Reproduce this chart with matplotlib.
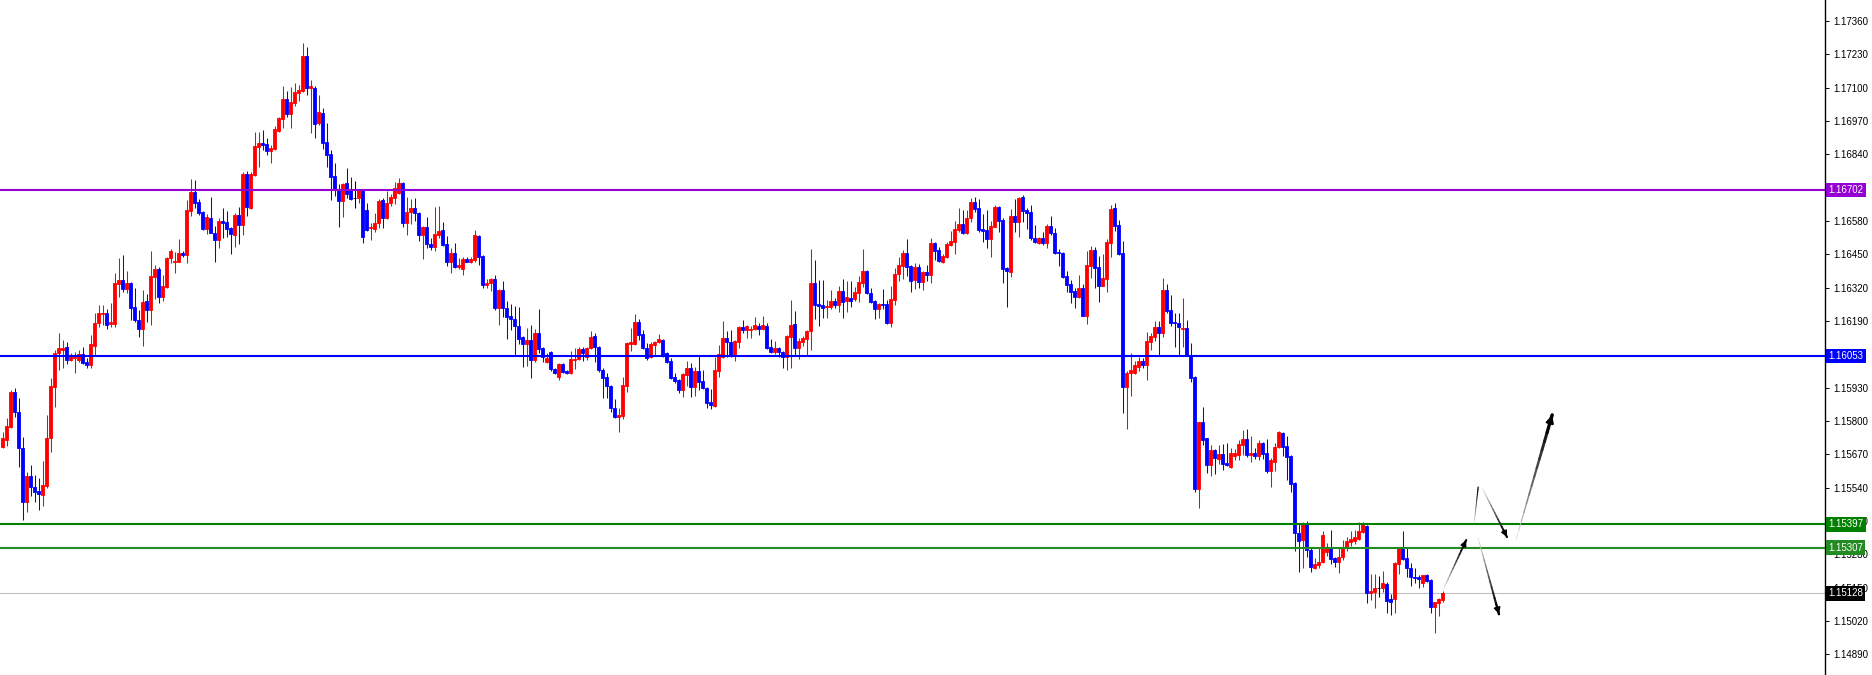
import numpy as np
import matplotlib.pyplot as plt

plt.rcParams['font.family'] = ['Liberation Sans', 'DejaVu Sans']

# candle data (H1 style bars)
opens = [
    1.15699, 1.15726, 1.15777, 1.15913, 1.15835, 1.15695, 1.15484, 1.15586, 1.15543, 1.15527,
    1.15511, 1.15547, 1.15734, 1.15933, 1.16065, 1.16077, 1.16089, 1.16038, 1.16046, 1.16038,
    1.16061, 1.16030, 1.16018, 1.16093, 1.16182, 1.16217, 1.16221, 1.16178, 1.16178, 1.16334,
    1.16350, 1.16315, 1.16338, 1.16245, 1.16194, 1.16159, 1.16268, 1.16233, 1.16362, 1.16393,
    1.16284, 1.16323, 1.16436, 1.16420, 1.16420, 1.16455, 1.16447, 1.16619, 1.16693, 1.16654,
    1.16615, 1.16549, 1.16592, 1.16533, 1.16506, 1.16580, 1.16576, 1.16553, 1.16525, 1.16603,
    1.16564, 1.16763, 1.16631, 1.16759, 1.16869, 1.16884, 1.16880, 1.16853, 1.16861, 1.16931,
    1.16978, 1.17056, 1.16997, 1.17040, 1.17079, 1.17087, 1.17224, 1.17099, 1.17099, 1.16962,
    1.17001, 1.16888, 1.16841, 1.16756, 1.16701, 1.16658, 1.16728, 1.16705, 1.16670, 1.16670,
    1.16701, 1.16623, 1.16553, 1.16549, 1.16572, 1.16662, 1.16592, 1.16650, 1.16670, 1.16689,
    1.16728, 1.16572, 1.16615, 1.16631, 1.16611, 1.16525, 1.16557, 1.16490, 1.16479, 1.16525,
    1.16545, 1.16490, 1.16420, 1.16455, 1.16401, 1.16393, 1.16432, 1.16420, 1.16428, 1.16522,
    1.16444, 1.16330, 1.16338, 1.16354, 1.16241, 1.16311, 1.16241, 1.16210, 1.16198, 1.16171,
    1.16128, 1.16100, 1.16116, 1.16038, 1.16143, 1.16085, 1.16030, 1.16069, 1.16003, 1.15972,
    1.16022, 1.15995, 1.15987, 1.16038, 1.16042, 1.16081, 1.16050, 1.16085, 1.16132, 1.16089,
    1.15999, 1.15972, 1.15937, 1.15851, 1.15816, 1.15820, 1.15937, 1.16100, 1.16100, 1.16186,
    1.16139, 1.16085, 1.16050, 1.16097, 1.16108, 1.16116, 1.16065, 1.16034, 1.15972, 1.15960,
    1.15921, 1.15979, 1.16007, 1.15933, 1.15995, 1.15956, 1.15929, 1.15874, 1.15858, 1.15995,
    1.16050, 1.16124, 1.16108, 1.16057, 1.16108, 1.16167, 1.16155, 1.16155, 1.16159, 1.16171,
    1.16159, 1.16171, 1.16089, 1.16069, 1.16085, 1.16069, 1.16050, 1.16128, 1.16178, 1.16085,
    1.16108, 1.16120, 1.16151, 1.16338, 1.16256, 1.16252, 1.16245, 1.16245, 1.16268, 1.16252,
    1.16307, 1.16268, 1.16280, 1.16276, 1.16299, 1.16338, 1.16385, 1.16299, 1.16268, 1.16237,
    1.16256, 1.16256, 1.16182, 1.16272, 1.16373, 1.16405, 1.16455, 1.16405, 1.16350, 1.16401,
    1.16342, 1.16381, 1.16369, 1.16494, 1.16467, 1.16420, 1.16440, 1.16486, 1.16498, 1.16545,
    1.16568, 1.16533, 1.16592, 1.16654, 1.16631, 1.16549, 1.16545, 1.16510, 1.16557, 1.16635,
    1.16584, 1.16397, 1.16381, 1.16600, 1.16576, 1.16674, 1.16623, 1.16615, 1.16514, 1.16494,
    1.16514, 1.16494, 1.16561, 1.16533, 1.16459, 1.16455, 1.16366, 1.16334, 1.16307, 1.16284,
    1.16319, 1.16210, 1.16405, 1.16467, 1.16401, 1.16327, 1.16354, 1.16494, 1.16631, 1.16564,
    1.16455, 1.15933, 1.15987, 1.15987, 1.16011, 1.16034, 1.16018, 1.16108, 1.16128, 1.16167,
    1.16143, 1.16311, 1.16233, 1.16186, 1.16182, 1.16159, 1.16163, 1.16057, 1.15972, 1.15535,
    1.15796, 1.15734, 1.15628, 1.15687, 1.15652, 1.15671, 1.15636, 1.15621, 1.15664, 1.15667,
    1.15706, 1.15730, 1.15667, 1.15675, 1.15664, 1.15714, 1.15675, 1.15605, 1.15640, 1.15699,
    1.15753, 1.15703, 1.15664, 1.15558, 1.15363, 1.15336, 1.15402, 1.15297, 1.15227, 1.15238,
    1.15250, 1.15289, 1.15309, 1.15266, 1.15250, 1.15270, 1.15309, 1.15328, 1.15332, 1.15340,
    1.15367, 1.15391, 1.15129, 1.15133, 1.15149, 1.15149, 1.15164, 1.15106, 1.15106, 1.15242,
    1.15309, 1.15266, 1.15227, 1.15192, 1.15192, 1.15168, 1.15199, 1.15180, 1.15075, 1.15090,
    1.15102,
]

highs = [
    1.15757, 1.15812, 1.15921, 1.15929, 1.15890, 1.15738, 1.15601, 1.15628, 1.15589, 1.15578,
    1.15644, 1.15823, 1.15968, 1.16077, 1.16143, 1.16116, 1.16108, 1.16065, 1.16069, 1.16077,
    1.16089, 1.16046, 1.16135, 1.16221, 1.16252, 1.16252, 1.16237, 1.16260, 1.16377, 1.16436,
    1.16447, 1.16385, 1.16342, 1.16319, 1.16233, 1.16311, 1.16295, 1.16463, 1.16408, 1.16401,
    1.16369, 1.16440, 1.16471, 1.16459, 1.16510, 1.16463, 1.16662, 1.16744, 1.16740, 1.16666,
    1.16619, 1.16607, 1.16674, 1.16561, 1.16592, 1.16631, 1.16619, 1.16557, 1.16611, 1.16635,
    1.16771, 1.16775, 1.16771, 1.16927, 1.16927, 1.16935, 1.16904, 1.16876, 1.16951, 1.16986,
    1.17107, 1.17087, 1.17103, 1.17118, 1.17110, 1.17274, 1.17259, 1.17130, 1.17107, 1.17071,
    1.17021, 1.16962, 1.16857, 1.16806, 1.16724, 1.16728, 1.16787, 1.16752, 1.16736, 1.16705,
    1.16705, 1.16650, 1.16572, 1.16611, 1.16666, 1.16670, 1.16697, 1.16685, 1.16732, 1.16748,
    1.16732, 1.16674, 1.16666, 1.16670, 1.16615, 1.16561, 1.16596, 1.16514, 1.16635, 1.16639,
    1.16576, 1.16522, 1.16475, 1.16494, 1.16436, 1.16440, 1.16440, 1.16440, 1.16545, 1.16525,
    1.16447, 1.16354, 1.16358, 1.16369, 1.16315, 1.16346, 1.16268, 1.16256, 1.16249, 1.16245,
    1.16132, 1.16163, 1.16174, 1.16159, 1.16237, 1.16089, 1.16065, 1.16073, 1.16007, 1.16026,
    1.16026, 1.15999, 1.16073, 1.16085, 1.16089, 1.16089, 1.16089, 1.16151, 1.16143, 1.16093,
    1.16007, 1.15987, 1.15941, 1.15886, 1.15851, 1.15972, 1.16108, 1.16163, 1.16217, 1.16198,
    1.16155, 1.16104, 1.16108, 1.16112, 1.16139, 1.16120, 1.16069, 1.16046, 1.15987, 1.15964,
    1.15987, 1.16034, 1.16026, 1.16011, 1.16054, 1.15999, 1.15933, 1.15925, 1.16050, 1.16097,
    1.16190, 1.16151, 1.16155, 1.16116, 1.16171, 1.16194, 1.16174, 1.16171, 1.16206, 1.16182,
    1.16210, 1.16182, 1.16120, 1.16112, 1.16089, 1.16073, 1.16135, 1.16272, 1.16229, 1.16124,
    1.16132, 1.16155, 1.16471, 1.16428, 1.16350, 1.16350, 1.16272, 1.16311, 1.16280, 1.16327,
    1.16354, 1.16346, 1.16346, 1.16323, 1.16366, 1.16471, 1.16389, 1.16319, 1.16272, 1.16260,
    1.16315, 1.16272, 1.16327, 1.16397, 1.16440, 1.16467, 1.16510, 1.16408, 1.16416, 1.16412,
    1.16385, 1.16408, 1.16514, 1.16498, 1.16479, 1.16451, 1.16498, 1.16541, 1.16580, 1.16631,
    1.16623, 1.16623, 1.16670, 1.16674, 1.16666, 1.16607, 1.16623, 1.16580, 1.16643, 1.16639,
    1.16592, 1.16401, 1.16627, 1.16666, 1.16674, 1.16682, 1.16631, 1.16643, 1.16564, 1.16518,
    1.16537, 1.16568, 1.16600, 1.16553, 1.16471, 1.16459, 1.16385, 1.16350, 1.16319, 1.16369,
    1.16334, 1.16463, 1.16483, 1.16479, 1.16444, 1.16451, 1.16510, 1.16643, 1.16650, 1.16584,
    1.16502, 1.15995, 1.16065, 1.16034, 1.16050, 1.16046, 1.16147, 1.16143, 1.16190, 1.16190,
    1.16358, 1.16334, 1.16292, 1.16221, 1.16221, 1.16280, 1.16194, 1.16104, 1.15976, 1.15796,
    1.15855, 1.15736, 1.15706, 1.15691, 1.15706, 1.15710, 1.15714, 1.15695, 1.15691, 1.15726,
    1.15765, 1.15769, 1.15742, 1.15695, 1.15726, 1.15718, 1.15730, 1.15656, 1.15714, 1.15761,
    1.15757, 1.15742, 1.15667, 1.15562, 1.15402, 1.15406, 1.15410, 1.15309, 1.15266, 1.15309,
    1.15371, 1.15324, 1.15375, 1.15270, 1.15309, 1.15336, 1.15348, 1.15371, 1.15375, 1.15406,
    1.15406, 1.15395, 1.15203, 1.15203, 1.15196, 1.15215, 1.15172, 1.15125, 1.15250, 1.15309,
    1.15371, 1.15309, 1.15246, 1.15227, 1.15199, 1.15199, 1.15203, 1.15184, 1.15094, 1.15110,
    1.15137,
]

lows = [
    1.15695, 1.15703, 1.15773, 1.15816, 1.15621, 1.15414, 1.15445, 1.15508, 1.15484, 1.15453,
    1.15469, 1.15539, 1.15679, 1.15855, 1.15999, 1.16007, 1.16022, 1.16034, 1.15987, 1.16030,
    1.16022, 1.16007, 1.16007, 1.16057, 1.16167, 1.16174, 1.16159, 1.16167, 1.16167, 1.16284,
    1.16303, 1.16299, 1.16194, 1.16186, 1.16128, 1.16093, 1.16186, 1.16174, 1.16276, 1.16260,
    1.16268, 1.16319, 1.16416, 1.16377, 1.16420, 1.16440, 1.16416, 1.16600, 1.16631, 1.16603,
    1.16545, 1.16529, 1.16549, 1.16420, 1.16475, 1.16514, 1.16518, 1.16451, 1.16479, 1.16490,
    1.16525, 1.16600, 1.16627, 1.16756, 1.16791, 1.16857, 1.16837, 1.16806, 1.16857, 1.16927,
    1.16943, 1.16986, 1.16943, 1.17029, 1.17048, 1.17083, 1.17071, 1.16923, 1.16904, 1.16954,
    1.16861, 1.16791, 1.16662, 1.16678, 1.16557, 1.16596, 1.16670, 1.16662, 1.16631, 1.16650,
    1.16494, 1.16541, 1.16506, 1.16537, 1.16553, 1.16553, 1.16588, 1.16639, 1.16646, 1.16685,
    1.16557, 1.16525, 1.16568, 1.16580, 1.16502, 1.16432, 1.16475, 1.16467, 1.16463, 1.16514,
    1.16483, 1.16405, 1.16377, 1.16397, 1.16393, 1.16369, 1.16420, 1.16416, 1.16420, 1.16408,
    1.16319, 1.16319, 1.16307, 1.16233, 1.16174, 1.16206, 1.16120, 1.16155, 1.16054, 1.16100,
    1.16011, 1.16015, 1.15968, 1.16030, 1.16065, 1.16030, 1.16026, 1.15995, 1.15983, 1.15960,
    1.15987, 1.15983, 1.15983, 1.16003, 1.16038, 1.16034, 1.16038, 1.16081, 1.16030, 1.15991,
    1.15890, 1.15890, 1.15835, 1.15812, 1.15757, 1.15808, 1.15913, 1.16073, 1.16097, 1.16116,
    1.16081, 1.16038, 1.16046, 1.16054, 1.16104, 1.16050, 1.16026, 1.15966, 1.15948, 1.15909,
    1.15894, 1.15937, 1.15894, 1.15898, 1.15921, 1.15925, 1.15851, 1.15847, 1.15855, 1.15972,
    1.16046, 1.16050, 1.16050, 1.16034, 1.16085, 1.16143, 1.16124, 1.16124, 1.16155, 1.16135,
    1.16155, 1.16081, 1.16065, 1.16061, 1.16050, 1.16007, 1.15999, 1.16007, 1.16057, 1.16042,
    1.16093, 1.16054, 1.16077, 1.16198, 1.16171, 1.16202, 1.16202, 1.16237, 1.16241, 1.16225,
    1.16202, 1.16225, 1.16245, 1.16268, 1.16264, 1.16323, 1.16295, 1.16260, 1.16198, 1.16202,
    1.16237, 1.16180, 1.16167, 1.16252, 1.16346, 1.16354, 1.16366, 1.16303, 1.16315, 1.16319,
    1.16311, 1.16346, 1.16338, 1.16428, 1.16422, 1.16418, 1.16436, 1.16483, 1.16451, 1.16537,
    1.16529, 1.16529, 1.16576, 1.16615, 1.16537, 1.16498, 1.16475, 1.16440, 1.16555, 1.16537,
    1.16338, 1.16245, 1.16362, 1.16537, 1.16518, 1.16576, 1.16549, 1.16506, 1.16494, 1.16490,
    1.16486, 1.16475, 1.16525, 1.16451, 1.16405, 1.16358, 1.16303, 1.16260, 1.16241, 1.16280,
    1.16208, 1.16178, 1.16358, 1.16319, 1.16264, 1.16325, 1.16303, 1.16440, 1.16541, 1.16447,
    1.15831, 1.15769, 1.15898, 1.15985, 1.15995, 1.16007, 1.15960, 1.16077, 1.16112, 1.16057,
    1.16128, 1.16221, 1.16171, 1.16089, 1.16057, 1.16089, 1.16052, 1.15952, 1.15523, 1.15461,
    1.15706, 1.15597, 1.15586, 1.15593, 1.15632, 1.15609, 1.15625, 1.15619, 1.15648, 1.15648,
    1.15667, 1.15660, 1.15640, 1.15652, 1.15648, 1.15652, 1.15597, 1.15543, 1.15605, 1.15695,
    1.15664, 1.15570, 1.15523, 1.15293, 1.15211, 1.15227, 1.15270, 1.15211, 1.15223, 1.15227,
    1.15246, 1.15274, 1.15242, 1.15231, 1.15207, 1.15258, 1.15293, 1.15313, 1.15320, 1.15336,
    1.15363, 1.15090, 1.15102, 1.15071, 1.15114, 1.15133, 1.15051, 1.15043, 1.15051, 1.15203,
    1.15258, 1.15192, 1.15157, 1.15168, 1.15149, 1.15153, 1.15174, 1.15051, 1.14973, 1.15040,
    1.15094,
]

closes = [
    1.15734, 1.15781, 1.15913, 1.15835, 1.15695, 1.15484, 1.15586, 1.15543, 1.15523, 1.15515,
    1.15550, 1.15734, 1.15937, 1.16065, 1.16085, 1.16085, 1.16038, 1.16054, 1.16050, 1.16061,
    1.16026, 1.16018, 1.16100, 1.16182, 1.16221, 1.16221, 1.16174, 1.16186, 1.16338, 1.16350,
    1.16315, 1.16338, 1.16241, 1.16194, 1.16159, 1.16264, 1.16233, 1.16366, 1.16393, 1.16284,
    1.16327, 1.16436, 1.16463, 1.16424, 1.16455, 1.16447, 1.16623, 1.16693, 1.16650, 1.16611,
    1.16549, 1.16596, 1.16533, 1.16506, 1.16580, 1.16572, 1.16549, 1.16529, 1.16603, 1.16564,
    1.16763, 1.16635, 1.16763, 1.16873, 1.16884, 1.16876, 1.16853, 1.16865, 1.16939, 1.16982,
    1.17056, 1.16997, 1.17044, 1.17083, 1.17091, 1.17224, 1.17099, 1.17107, 1.16958, 1.17005,
    1.16884, 1.16837, 1.16752, 1.16701, 1.16658, 1.16724, 1.16685, 1.16666, 1.16670, 1.16701,
    1.16518, 1.16545, 1.16557, 1.16572, 1.16658, 1.16592, 1.16650, 1.16674, 1.16709, 1.16728,
    1.16572, 1.16615, 1.16631, 1.16611, 1.16525, 1.16557, 1.16490, 1.16479, 1.16529, 1.16541,
    1.16486, 1.16420, 1.16455, 1.16401, 1.16408, 1.16432, 1.16420, 1.16432, 1.16525, 1.16440,
    1.16330, 1.16338, 1.16354, 1.16241, 1.16311, 1.16241, 1.16206, 1.16198, 1.16171, 1.16120,
    1.16100, 1.16116, 1.16038, 1.16143, 1.16081, 1.16050, 1.16046, 1.16003, 1.15987, 1.16022,
    1.15991, 1.15987, 1.16042, 1.16042, 1.16081, 1.16065, 1.16085, 1.16128, 1.16089, 1.15999,
    1.15968, 1.15937, 1.15851, 1.15816, 1.15823, 1.15941, 1.16104, 1.16108, 1.16186, 1.16135,
    1.16085, 1.16046, 1.16100, 1.16108, 1.16120, 1.16054, 1.16030, 1.15968, 1.15956, 1.15921,
    1.15983, 1.16007, 1.15933, 1.15995, 1.15952, 1.15929, 1.15870, 1.15862, 1.15999, 1.16061,
    1.16124, 1.16108, 1.16057, 1.16112, 1.16167, 1.16155, 1.16171, 1.16159, 1.16174, 1.16159,
    1.16174, 1.16085, 1.16069, 1.16085, 1.16069, 1.16050, 1.16132, 1.16174, 1.16085, 1.16112,
    1.16124, 1.16151, 1.16338, 1.16252, 1.16249, 1.16241, 1.16249, 1.16268, 1.16252, 1.16307,
    1.16264, 1.16284, 1.16268, 1.16303, 1.16342, 1.16385, 1.16299, 1.16264, 1.16237, 1.16256,
    1.16252, 1.16182, 1.16276, 1.16373, 1.16408, 1.16455, 1.16401, 1.16346, 1.16401, 1.16342,
    1.16381, 1.16369, 1.16494, 1.16463, 1.16424, 1.16444, 1.16490, 1.16502, 1.16549, 1.16568,
    1.16533, 1.16592, 1.16654, 1.16627, 1.16545, 1.16541, 1.16510, 1.16561, 1.16635, 1.16580,
    1.16393, 1.16385, 1.16600, 1.16576, 1.16670, 1.16619, 1.16611, 1.16514, 1.16498, 1.16514,
    1.16494, 1.16561, 1.16533, 1.16455, 1.16455, 1.16362, 1.16330, 1.16303, 1.16284, 1.16319,
    1.16210, 1.16408, 1.16467, 1.16397, 1.16327, 1.16358, 1.16498, 1.16627, 1.16561, 1.16451,
    1.15933, 1.15987, 1.15999, 1.16018, 1.16034, 1.16018, 1.16112, 1.16132, 1.16167, 1.16143,
    1.16311, 1.16229, 1.16182, 1.16182, 1.16167, 1.16163, 1.16054, 1.15968, 1.15535, 1.15796,
    1.15726, 1.15628, 1.15687, 1.15656, 1.15671, 1.15632, 1.15628, 1.15675, 1.15675, 1.15710,
    1.15730, 1.15667, 1.15675, 1.15664, 1.15714, 1.15671, 1.15605, 1.15648, 1.15699, 1.15757,
    1.15699, 1.15660, 1.15554, 1.15363, 1.15332, 1.15402, 1.15297, 1.15231, 1.15242, 1.15250,
    1.15356, 1.15309, 1.15262, 1.15250, 1.15270, 1.15309, 1.15332, 1.15340, 1.15348, 1.15371,
    1.15398, 1.15129, 1.15137, 1.15149, 1.15149, 1.15168, 1.15098, 1.15094, 1.15246, 1.15305,
    1.15262, 1.15227, 1.15192, 1.15188, 1.15184, 1.15199, 1.15176, 1.15075, 1.15094, 1.15106,
    1.15128,
]

# horizontal levels drawn on the chart
level_prices = [1.16702, 1.16053, 1.15397, 1.15307]
level_colors = ['#9400d3', '#0000ff', '#008000', '#228b22']
last_price = 1.15128

# price scale (1.16710 and 1.16060 sit fully under the level tags)
tick_prices = [1.17360, 1.17230, 1.17100, 1.16970, 1.16840, 1.16580, 1.16450,
               1.16320, 1.16190, 1.15930, 1.15800, 1.15670, 1.15540, 1.15410,
               1.15280, 1.15150, 1.15020, 1.14890]

# hand drawn scenario arrows (bar index, price)
arrow_starts = [(360.1, 1.15141), (369.9, 1.15539), (368.9, 1.15344), (378.4, 1.15340)]
arrow_ends = [(365.9, 1.15336), (376.1, 1.15348), (374.1, 1.15047), (387.4, 1.15824)]
arrow_widths = [1.6, 1.6, 1.8, 2.6]
stroke_start = (367.9, 1.15402)
stroke_end = (368.9, 1.15543)

assert len(opens) == len(highs) == len(lows) == len(closes)

o = np.array(opens)
h = np.array(highs)
l = np.array(lows)
c = np.array(closes)
x = np.arange(len(c))
colors = np.where(c > o, '#ff0000', np.where(c < o, '#0000ff', '#000000'))

fig = plt.figure(figsize=(18.72, 6.75), dpi=100)
ax = fig.add_axes([0, 0, 1825 / 1872, 1])

ax.axhline(last_price, color='#c0c0c0', lw=0.8, zorder=1)

top = np.maximum(h, np.maximum(o, c))
bot = np.minimum(l, np.minimum(o, c))
ax.vlines(x, bot, top, colors=colors, lw=0.75, zorder=2)
ax.bar(x, c - o, bottom=o, width=0.58, color=colors, edgecolor=colors,
       linewidth=0.6, zorder=2)

for p, col in zip(level_prices, level_colors):
    ax.axhline(p, color=col, lw=1.5, zorder=3)


def shaded_arrow(p0, p1, w_end, head=True):
    n = 14
    xs = np.linspace(p0[0], p1[0], n + 1)
    ys = np.linspace(p0[1], p1[1], n + 1)
    for k in range(n):
        t = (k + 0.5) / n
        g = 0.88 * (1 - t) ** 1.3
        ax.plot(xs[k:k + 2], ys[k:k + 2], color=(g, g, g),
                lw=0.4 + (w_end - 0.4) * t, solid_capstyle='round', zorder=4)
    if head:
        ax.annotate('', xy=p1, xytext=(xs[-3], ys[-3]),
                    arrowprops=dict(arrowstyle='-|>', color='black',
                                    lw=w_end * 0.6, mutation_scale=6 + 2 * w_end,
                                    shrinkA=0, shrinkB=0), zorder=5)


shaded_arrow(stroke_start, stroke_end, 0.9, head=False)
for s, e, w in zip(arrow_starts, arrow_ends, arrow_widths):
    shaded_arrow(s, e, w)

ax.set_xlim(-0.625, 455.6)
ax.set_ylim(1.14810, 1.17442)

ax.yaxis.tick_right()
ax.set_yticks(tick_prices)
ax.set_yticklabels([f'{t:.5f}' for t in tick_prices])
ax.tick_params(axis='y', length=3, width=0.7, pad=3, labelsize=7, colors='black')
ax.set_xticks([])
for side in ['top', 'left', 'bottom']:
    ax.spines[side].set_visible(False)
ax.spines['right'].set_linewidth(1)
ax.spines['right'].set_color('black')

label_prices = level_prices + [last_price]
label_colors = level_colors + ['#000000']
for p, col in zip(label_prices, label_colors):
    ax.annotate(f'{p:.5f}', xy=(1, p), xycoords=('axes fraction', 'data'),
                xytext=(2.5, 0), textcoords='offset points', ha='left', va='center',
                color='white', fontsize=7,
                bbox=dict(boxstyle='square,pad=0.22', fc=col, ec='none'),
                annotation_clip=False, zorder=10)

fig.savefig('out.png', dpi=100, facecolor='white')
